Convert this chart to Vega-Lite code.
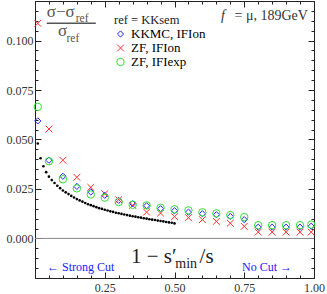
{
  "$schema": "https://vega.github.io/schema/vega-lite/v6.json",
  "width": 279,
  "height": 277,
  "autosize": {"type": "none"},
  "padding": {"left": 35, "top": 1, "right": 13, "bottom": 16},
  "config": {
    "view": {"stroke": "#222", "strokeWidth": 1},
    "font": "Liberation Serif",
    "axis": {"grid": false, "domain": false, "tickColor": "#222", "labelColor": "#333", "labelFont": "Liberation Serif", "labelFontSize": 12, "labelOverlap": false, "labelFlush": false, "title": null}
  },
  "datasets": {
    "one": [{}],
    "ref": [
      {"x": 0.01, "y": 0.048}, {"x": 0.02, "y": 0.0405}, {"x": 0.03, "y": 0.0365}, {"x": 0.04, "y": 0.0335}, {"x": 0.05, "y": 0.0312},
      {"x": 0.06, "y": 0.0295}, {"x": 0.07, "y": 0.028}, {"x": 0.08, "y": 0.0266}, {"x": 0.09, "y": 0.0254}, {"x": 0.10, "y": 0.0242},
      {"x": 0.11, "y": 0.0233}, {"x": 0.12, "y": 0.0224}, {"x": 0.13, "y": 0.0215}, {"x": 0.14, "y": 0.0207}, {"x": 0.15, "y": 0.0199},
      {"x": 0.16, "y": 0.0192}, {"x": 0.17, "y": 0.0186}, {"x": 0.18, "y": 0.0179}, {"x": 0.19, "y": 0.0173}, {"x": 0.20, "y": 0.0168},
      {"x": 0.21, "y": 0.0163}, {"x": 0.22, "y": 0.0158}, {"x": 0.23, "y": 0.0153}, {"x": 0.24, "y": 0.0149}, {"x": 0.25, "y": 0.0145},
      {"x": 0.26, "y": 0.0141}, {"x": 0.27, "y": 0.0137}, {"x": 0.28, "y": 0.0134}, {"x": 0.29, "y": 0.013}, {"x": 0.30, "y": 0.0127},
      {"x": 0.31, "y": 0.0124}, {"x": 0.32, "y": 0.0121}, {"x": 0.33, "y": 0.0118}, {"x": 0.34, "y": 0.0115}, {"x": 0.35, "y": 0.0112},
      {"x": 0.36, "y": 0.011}, {"x": 0.37, "y": 0.0107}, {"x": 0.38, "y": 0.0105}, {"x": 0.39, "y": 0.0102}, {"x": 0.40, "y": 0.01},
      {"x": 0.41, "y": 0.0097}, {"x": 0.42, "y": 0.0095}, {"x": 0.43, "y": 0.0093}, {"x": 0.44, "y": 0.009}, {"x": 0.45, "y": 0.0088},
      {"x": 0.46, "y": 0.0086}, {"x": 0.47, "y": 0.0083}, {"x": 0.48, "y": 0.0081}, {"x": 0.49, "y": 0.0079}, {"x": 0.50, "y": 0.0076}
    ],
    "pts": [
      {"series": "KKMC, IFIon", "x": 0.01, "y": 0.0594}, {"series": "KKMC, IFIon", "x": 0.05, "y": 0.0395}, {"series": "KKMC, IFIon", "x": 0.10, "y": 0.0314},
      {"series": "KKMC, IFIon", "x": 0.15, "y": 0.0263}, {"series": "KKMC, IFIon", "x": 0.20, "y": 0.0235}, {"series": "KKMC, IFIon", "x": 0.25, "y": 0.0218},
      {"series": "KKMC, IFIon", "x": 0.30, "y": 0.0192}, {"series": "KKMC, IFIon", "x": 0.35, "y": 0.0176}, {"series": "KKMC, IFIon", "x": 0.40, "y": 0.0165},
      {"series": "KKMC, IFIon", "x": 0.45, "y": 0.015}, {"series": "KKMC, IFIon", "x": 0.50, "y": 0.014}, {"series": "KKMC, IFIon", "x": 0.55, "y": 0.0133},
      {"series": "KKMC, IFIon", "x": 0.60, "y": 0.0125}, {"series": "KKMC, IFIon", "x": 0.65, "y": 0.012}, {"series": "KKMC, IFIon", "x": 0.70, "y": 0.0111},
      {"series": "KKMC, IFIon", "x": 0.75, "y": 0.0095}, {"series": "KKMC, IFIon", "x": 0.80, "y": 0.0057}, {"series": "KKMC, IFIon", "x": 0.85, "y": 0.0057},
      {"series": "KKMC, IFIon", "x": 0.90, "y": 0.0057}, {"series": "KKMC, IFIon", "x": 0.95, "y": 0.0057}, {"series": "KKMC, IFIon", "x": 0.99, "y": 0.0062},
      {"series": "ZF, IFIon", "x": 0.01, "y": 0.1087}, {"series": "ZF, IFIon", "x": 0.05, "y": 0.0553}, {"series": "ZF, IFIon", "x": 0.10, "y": 0.0395},
      {"series": "ZF, IFIon", "x": 0.15, "y": 0.0309}, {"series": "ZF, IFIon", "x": 0.20, "y": 0.0258}, {"series": "ZF, IFIon", "x": 0.25, "y": 0.0226},
      {"series": "ZF, IFIon", "x": 0.30, "y": 0.0196}, {"series": "ZF, IFIon", "x": 0.35, "y": 0.0167}, {"series": "ZF, IFIon", "x": 0.40, "y": 0.0133},
      {"series": "ZF, IFIon", "x": 0.45, "y": 0.0128}, {"series": "ZF, IFIon", "x": 0.50, "y": 0.011}, {"series": "ZF, IFIon", "x": 0.55, "y": 0.0105},
      {"series": "ZF, IFIon", "x": 0.60, "y": 0.0095}, {"series": "ZF, IFIon", "x": 0.65, "y": 0.0086}, {"series": "ZF, IFIon", "x": 0.70, "y": 0.0077},
      {"series": "ZF, IFIon", "x": 0.75, "y": 0.0061}, {"series": "ZF, IFIon", "x": 0.80, "y": 0.0032}, {"series": "ZF, IFIon", "x": 0.85, "y": 0.0032},
      {"series": "ZF, IFIon", "x": 0.90, "y": 0.0032}, {"series": "ZF, IFIon", "x": 0.95, "y": 0.0032}, {"series": "ZF, IFIon", "x": 0.99, "y": 0.0032},
      {"series": "ZF, IFIexp", "x": 0.01, "y": 0.0665}, {"series": "ZF, IFIexp", "x": 0.05, "y": 0.039}, {"series": "ZF, IFIexp", "x": 0.10, "y": 0.0299},
      {"series": "ZF, IFIexp", "x": 0.15, "y": 0.0253}, {"series": "ZF, IFIexp", "x": 0.20, "y": 0.0222}, {"series": "ZF, IFIexp", "x": 0.25, "y": 0.0206},
      {"series": "ZF, IFIexp", "x": 0.30, "y": 0.0184}, {"series": "ZF, IFIexp", "x": 0.35, "y": 0.017}, {"series": "ZF, IFIexp", "x": 0.40, "y": 0.0167},
      {"series": "ZF, IFIexp", "x": 0.45, "y": 0.0155}, {"series": "ZF, IFIexp", "x": 0.50, "y": 0.0147}, {"series": "ZF, IFIexp", "x": 0.55, "y": 0.0142},
      {"series": "ZF, IFIexp", "x": 0.60, "y": 0.0132}, {"series": "ZF, IFIexp", "x": 0.65, "y": 0.0127}, {"series": "ZF, IFIexp", "x": 0.70, "y": 0.0118},
      {"series": "ZF, IFIexp", "x": 0.75, "y": 0.0108}, {"series": "ZF, IFIexp", "x": 0.80, "y": 0.0067}, {"series": "ZF, IFIexp", "x": 0.85, "y": 0.0067},
      {"series": "ZF, IFIexp", "x": 0.90, "y": 0.0067}, {"series": "ZF, IFIexp", "x": 0.95, "y": 0.0067}, {"series": "ZF, IFIexp", "x": 0.99, "y": 0.007}
    ]
  },
  "layer": [
    {
      "data": {"name": "one"},
      "mark": {"type": "rule", "stroke": "#888", "strokeWidth": 1},
      "encoding": {
        "y": {"datum": 0, "type": "quantitative", "scale": {"domain": [-0.02, 0.12], "nice": false, "zero": false},
          "axis": {"orient": "right", "labels": false,
            "values": [-0.02,-0.015,-0.01,-0.005,0,0.005,0.01,0.015,0.02,0.025,0.03,0.035,0.04,0.045,0.05,0.055,0.06,0.065,0.07,0.075,0.08,0.085,0.09,0.095,0.1,0.105,0.11,0.115,0.12],
            "tickSize": {"condition": {"test": "indexof([0,0.025,0.05,0.075,0.1], datum.value) >= 0", "value": -6}, "value": -3}}},
        "x": {"datum": 0, "type": "quantitative", "scale": {"domain": [0, 1], "nice": false, "zero": false},
          "axis": {"orient": "top", "labels": false,
            "values": [0,0.05,0.1,0.15,0.2,0.25,0.3,0.35,0.4,0.45,0.5,0.55,0.6,0.65,0.7,0.75,0.8,0.85,0.9,0.95,1],
            "tickSize": {"condition": {"test": "indexof([0,0.25,0.5,0.75,1], datum.value) >= 0", "value": -6}, "value": -3}}},
        "x2": {"datum": 1}
      }
    },
    {
      "data": {"name": "ref"},
      "mark": {"type": "circle", "color": "#000", "size": 7, "opacity": 1},
      "encoding": {
        "x": {"field": "x", "type": "quantitative",
          "axis": {"orient": "bottom",
            "values": [0,0.05,0.1,0.15,0.2,0.25,0.3,0.35,0.4,0.45,0.5,0.55,0.6,0.65,0.7,0.75,0.8,0.85,0.9,0.95,1],
            "labelExpr": "indexof([0.25,0.5,0.75,1], datum.value) >= 0 ? format(datum.value, '.2f') : ''",
            "labelPadding": 10,
            "tickSize": {"condition": {"test": "indexof([0,0.25,0.5,0.75,1], datum.value) >= 0", "value": -6}, "value": -3}}},
        "y": {"field": "y", "type": "quantitative",
          "axis": {"orient": "left",
            "values": [-0.02,-0.015,-0.01,-0.005,0,0.005,0.01,0.015,0.02,0.025,0.03,0.035,0.04,0.045,0.05,0.055,0.06,0.065,0.07,0.075,0.08,0.085,0.09,0.095,0.1,0.105,0.11,0.115,0.12],
            "labelExpr": "indexof([0,0.025,0.05,0.075,0.1], datum.value) >= 0 ? format(datum.value, '.3f') : ''",
            "labelPadding": 8,
            "tickSize": {"condition": {"test": "indexof([0,0.025,0.05,0.075,0.1], datum.value) >= 0", "value": -6}, "value": -3}}}
      }
    },
    {
      "data": {"name": "pts"},
      "mark": {"type": "point", "filled": false, "strokeWidth": 1, "opacity": 1},
      "encoding": {
        "x": {"field": "x", "type": "quantitative", "axis": null},
        "y": {"field": "y", "type": "quantitative", "axis": null},
        "size": {"field": "series", "type": "nominal", "legend": null,
          "scale": {"domain": ["KKMC, IFIon", "ZF, IFIon", "ZF, IFIexp"], "range": [38, 55, 60]}},
        "color": {"field": "series", "type": "nominal",
          "scale": {"domain": ["KKMC, IFIon", "ZF, IFIon", "ZF, IFIexp"], "range": ["#2020ff", "#ff3030", "#30e030"]},
          "legend": {"title": "ref = KKsem", "orient": "none", "legendX": 79, "legendY": 13,
            "titleFont": "Liberation Serif", "titleFontSize": 12.5, "titleFontWeight": "normal", "titleColor": "#222", "titlePadding": 1,
            "labelFont": "Liberation Serif", "labelFontSize": 13, "labelOffset": 4, "rowPadding": 0, "symbolSize": 40, "symbolStrokeWidth": 1,
            "encode": {"labels": {"update": {"fill": {"signal": "datum.value === 'KKMC, IFIon' ? '#2020ff' : datum.value === 'ZF, IFIon' ? '#ff3030' : '#30e030'"}}}}}},
        "shape": {"field": "series", "type": "nominal",
          "scale": {"domain": ["KKMC, IFIon", "ZF, IFIon", "ZF, IFIexp"], "range": ["diamond", "M-1,-1L1,1M-1,1L1,-1", "circle"]}}
      }
    },
    {
      "data": {"name": "one"},
      "mark": {"type": "rule", "stroke": "#555", "strokeWidth": 1.5},
      "encoding": {"x": {"datum": 0.042, "type": "quantitative", "axis": null}, "x2": {"datum": 0.218}, "y": {"datum": 0.1087, "type": "quantitative", "axis": null}}
    },
    {
      "data": {"name": "one"},
      "mark": {"type": "text", "text": "σ−σ", "fontSize": 17, "align": "left", "baseline": "alphabetic", "color": "#555"},
      "encoding": {"x": {"datum": 0.042, "type": "quantitative", "axis": null}, "y": {"datum": 0.1119, "type": "quantitative", "axis": null}}
    },
    {
      "data": {"name": "one"},
      "mark": {"type": "text", "text": "ref", "fontSize": 11.5, "align": "left", "baseline": "alphabetic", "color": "#555"},
      "encoding": {"x": {"datum": 0.146, "type": "quantitative", "axis": null}, "y": {"datum": 0.1094, "type": "quantitative", "axis": null}}
    },
    {
      "data": {"name": "one"},
      "mark": {"type": "text", "text": "σ", "fontSize": 17, "align": "left", "baseline": "alphabetic", "color": "#555"},
      "encoding": {"x": {"datum": 0.0824, "type": "quantitative", "axis": null}, "y": {"datum": 0.1023, "type": "quantitative", "axis": null}}
    },
    {
      "data": {"name": "one"},
      "mark": {"type": "text", "text": "ref", "fontSize": 11.5, "align": "left", "baseline": "alphabetic", "color": "#555"},
      "encoding": {"x": {"datum": 0.113, "type": "quantitative", "axis": null}, "y": {"datum": 0.0992, "type": "quantitative", "axis": null}}
    },
    {
      "data": {"name": "one"},
      "mark": {"type": "text", "text": "f", "fontSize": 14, "fontStyle": "italic", "align": "left", "baseline": "alphabetic", "color": "#333"},
      "encoding": {"x": {"datum": 0.667, "type": "quantitative", "axis": null}, "y": {"datum": 0.1104, "type": "quantitative", "axis": null}}
    },
    {
      "data": {"name": "one"},
      "mark": {"type": "text", "text": "= μ, 189GeV", "fontSize": 14, "align": "right", "baseline": "alphabetic", "color": "#333"},
      "encoding": {"x": {"datum": 0.978, "type": "quantitative", "axis": null}, "y": {"datum": 0.1104, "type": "quantitative", "axis": null}}
    },
    {
      "data": {"name": "one"},
      "mark": {"type": "text", "text": "1 − s′", "fontSize": 21, "align": "left", "baseline": "alphabetic", "color": "#222"},
      "encoding": {"x": {"datum": 0.344, "type": "quantitative", "axis": null}, "y": {"datum": -0.0122, "type": "quantitative", "axis": null}}
    },
    {
      "data": {"name": "one"},
      "mark": {"type": "text", "text": "min", "fontSize": 14, "align": "left", "baseline": "alphabetic", "color": "#222"},
      "encoding": {"x": {"datum": 0.503, "type": "quantitative", "axis": null}, "y": {"datum": -0.0147, "type": "quantitative", "axis": null}}
    },
    {
      "data": {"name": "one"},
      "mark": {"type": "text", "text": "/s", "fontSize": 21, "align": "left", "baseline": "alphabetic", "color": "#222"},
      "encoding": {"x": {"datum": 0.59, "type": "quantitative", "axis": null}, "y": {"datum": -0.0122, "type": "quantitative", "axis": null}}
    },
    {
      "data": {"name": "one"},
      "mark": {"type": "text", "text": "← Strong Cut", "fontSize": 12, "align": "left", "baseline": "alphabetic", "color": "#2020ff"},
      "encoding": {"x": {"datum": 0.043, "type": "quantitative", "axis": null}, "y": {"datum": -0.0167, "type": "quantitative", "axis": null}}
    },
    {
      "data": {"name": "one"},
      "mark": {"type": "text", "text": "No Cut →", "fontSize": 12, "align": "left", "baseline": "alphabetic", "color": "#2020ff"},
      "encoding": {"x": {"datum": 0.742, "type": "quantitative", "axis": null}, "y": {"datum": -0.0167, "type": "quantitative", "axis": null}}
    }
  ],
  "resolve": {"axis": {"x": "independent", "y": "independent"}, "scale": {"x": "shared", "y": "shared"}}
}
